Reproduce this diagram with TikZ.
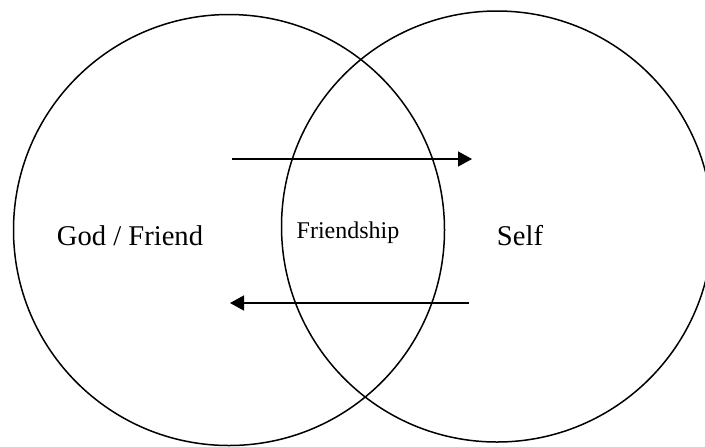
\documentclass[tikz,border=0pt]{standalone}
\usepackage{fontspec}
\setmainfont{Liberation Serif}
\usetikzlibrary{arrows.meta,positioning}
\tikzset{
  ring/.style={circle, draw=black, line width=0.75pt, minimum size=215.5pt, inner sep=0pt},
  tag/.style={inner sep=0pt, anchor=base, font=\fontsize{14.3pt}{16pt}\selectfont},
  smalltag/.style={inner sep=0pt, anchor=base, font=\fontsize{12pt}{14pt}\selectfont},
  arrow/.style={-{Triangle[length=7pt,width=7.5pt]}, line width=0.75pt}
}

\begin{document}
\begin{tikzpicture}[x=0.5pt, y=-0.5pt]
  \clip (0,0) rectangle (705,446);
  \node[ring] (god) at (229,230) {};
  \node[ring] (self) at (497,226.5) {};
  \node[tag] (godtxt) at (130,245) {God / Friend};
  \node[tag] (selftxt) at (520,245) {Self};
  \node[smalltag] (friend) at (348,238) {Friendship};
  \coordinate (toA) at (232,159);
  \coordinate (toB) at (472,159);
  \coordinate (backA) at (469,303);
  \coordinate (backB) at (230,303);
  \draw[arrow] (toA) -- (toB);
  \draw[arrow] (backA) -- (backB);
\end{tikzpicture}
\end{document}
